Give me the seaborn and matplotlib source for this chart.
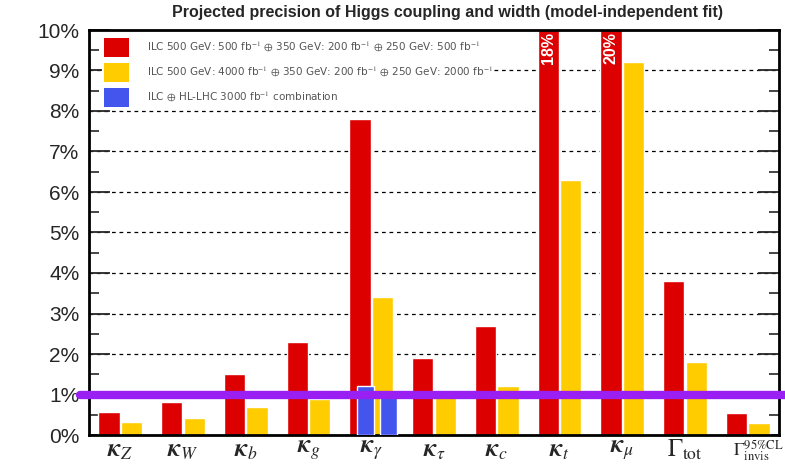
import matplotlib
matplotlib.use("Agg")
import matplotlib.pyplot as plt
import matplotlib.transforms as mtransforms
from matplotlib.patches import Patch
import seaborn as sns
import pandas as pd

# Coupling / width labels (x axis)
categories = [r"$\boldsymbol{\kappa}_Z$", r"$\boldsymbol{\kappa}_W$", r"$\boldsymbol{\kappa}_b$",
              r"$\boldsymbol{\kappa}_g$", r"$\boldsymbol{\kappa}_\gamma$", r"$\boldsymbol{\kappa}_\tau$",
              r"$\boldsymbol{\kappa}_c$", r"$\boldsymbol{\kappa}_t$", r"$\boldsymbol{\kappa}_\mu$",
              r"$\Gamma_{\rm tot}$", r"$\Gamma^{\rm 95\%CL}_{\rm invis}$"]

# Relative precision in %
ilc_500 = [0.58, 0.81, 1.5, 2.3, 7.8, 1.9, 2.7, 18.0, 20.0, 3.8, 0.54]
ilc_upgrade = [0.31, 0.42, 0.70, 0.90, 3.4, 0.94, 1.2, 6.3, 9.2, 1.8, 0.29]
# ILC + HL-LHC combination, only for kappa_gamma
hl_lhc_index = 4
hl_lhc_comb = [1.2, 1.0]

series_names = [
    r"ILC 500 GeV: 500 fb$^{-1}$ $\oplus$ 350 GeV: 200 fb$^{-1}$ $\oplus$ 250 GeV: 500 fb$^{-1}$",
    r"ILC 500 GeV: 4000 fb$^{-1}$ $\oplus$ 350 GeV: 200 fb$^{-1}$ $\oplus$ 250 GeV: 2000 fb$^{-1}$",
    r"ILC $\oplus$ HL-LHC 3000 fb$^{-1}$ combination",
]
yticks = [0, 1, 2, 3, 4, 5, 6, 7, 8, 9, 10]
ytick_labels = [f"{v}%" for v in yticks]

RED, YELLOW, BLUE, PURPLE = "#dd0000", "#ffcc00", "#4455ee", "#9a1ff2"

df = pd.DataFrame({
    "coupling": categories * 2,
    "series": [series_names[0]] * len(categories) + [series_names[1]] * len(categories),
    "precision": ilc_500 + ilc_upgrade,
})

sns.set_style("white")
plt.rcParams["mathtext.fontset"] = "stix"
plt.rcParams["font.family"] = ["Liberation Sans", "DejaVu Sans"]

fig = plt.figure(figsize=(7.85, 4.65), dpi=100)
ax = fig.add_axes([89 / 785, 30 / 465, 690 / 785, 405 / 465])

sns.barplot(data=df, x="coupling", y="precision", hue="series",
            hue_order=series_names[:2], palette=[RED, YELLOW],
            width=0.72, gap=0.06, saturation=1, ax=ax, legend=False, zorder=2)

# HL-LHC combined bars drawn over the kappa_gamma pair
ax.bar([hl_lhc_index - 0.18 + 0.09, hl_lhc_index + 0.18 + 0.09], hl_lhc_comb,
       width=0.27, color=BLUE, zorder=3)

ax.set_xlim(-0.5, len(categories) - 0.5)
ax.set_ylim(0, 10)
ax.set_xlabel("")
ax.set_ylabel("")

# Labels for bars running off the top of the scale
for i, v in enumerate(ilc_500):
    if v > 10:
        ax.text(i - 0.18, 9.95, f"{v:.0f}%", rotation=90, ha="center", va="top",
                color="white", fontsize=11.5, fontweight="bold", zorder=4)

ax.set_yticks(yticks)
ax.set_yticklabels(ytick_labels, fontsize=15)
ax.set_yticks([y + 0.5 for y in yticks[:-1]], minor=True)
ax.tick_params(axis="y", which="major", direction="in", length=15, width=1.3,
               left=True, right=True, pad=7)
ax.tick_params(axis="y", which="minor", direction="in", length=7, width=1.2,
               left=True, right=True)
ax.tick_params(axis="x", length=0, pad=2)
ax.set_xticks(range(len(categories)))
ax.set_xticklabels(categories, fontsize=18)
last = ax.get_xticklabels()[-1]
last.set_fontsize(13)
last.set_horizontalalignment("left")
last.set_transform(last.get_transform() +
                   mtransforms.ScaledTranslation(-0.15, 0.0, fig.dpi_scale_trans))

ax.yaxis.grid(True, which="major", color="black", linestyle=(0, (3, 3)), linewidth=0.9)
ax.set_axisbelow(True)
for s in ax.spines.values():
    s.set_visible(True)
    s.set_color("black")
    s.set_linewidth(2)

# 1% reference line, running past the frame
ax.axhline(1.0, xmin=-0.013, xmax=1.01, color=PURPLE, linewidth=6, clip_on=False, zorder=5)

handles = [Patch(facecolor=c, edgecolor="none") for c in (RED, YELLOW, BLUE)]
leg = ax.legend(handles, series_names, loc="upper left", bbox_to_anchor=(0.012, 0.997),
                prop={"family": "DejaVu Sans", "size": 7.5}, frameon=True, framealpha=1,
                facecolor="white", edgecolor="none", handlelength=2.4, handleheight=2.4,
                labelspacing=0.6, borderpad=0.15, handletextpad=1.7)
for t in leg.get_texts():
    t.set_color("#555555")
leg.set_zorder(6)

fig.text(448 / 785, 1 - 12 / 465,
         "Projected precision of Higgs coupling and width (model-independent fit)",
         ha="center", va="center", fontsize=11.5, fontweight="bold")

fig.savefig("out.png", dpi=100)
